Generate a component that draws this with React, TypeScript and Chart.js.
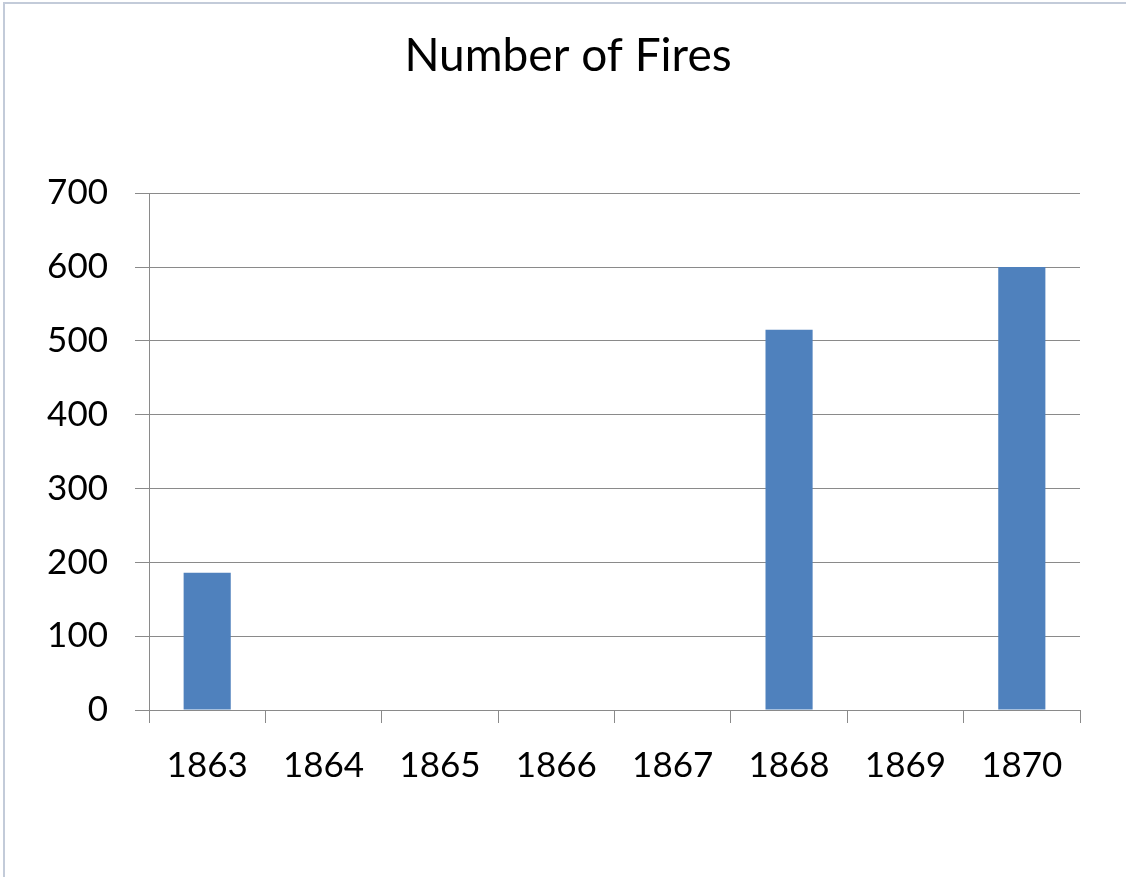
import React, { useEffect, useRef } from "react";
import { Chart, registerables } from "chart.js";

Chart.register(...registerables);

const categories = ["1863", "1864", "1865", "1866", "1867", "1868", "1869", "1870"];
const fires = [186, 0, 0, 0, 0, 515, 0, 600];
const titleText = "Number of Fires";
const yMin = 0;
const yMax = 700;
const yStep = 100;

const FONT = "Lato, 'Open Sans', sans-serif";
const GRID = "#8a8a8a";

export default function App() {
  const ref = useRef<HTMLCanvasElement | null>(null);

  useEffect(() => {
    document.body.style.margin = "0";
    const canvas = ref.current;
    if (!canvas) return;
    const chart = new Chart(canvas, {
      type: "bar",
      data: {
        labels: categories,
        datasets: [
          {
            label: titleText,
            data: fires,
            backgroundColor: "#4f81bd",
            borderWidth: 0,
            barPercentage: 0.405,
            categoryPercentage: 1,
          },
        ],
      },
      options: {
        animation: false,
        responsive: false,
        maintainAspectRatio: false,
        layout: { padding: { left: 10, right: 0, top: 0, bottom: 0 } },
        plugins: {
          legend: { display: false },
          tooltip: { enabled: false },
          title: {
            display: true,
            text: titleText,
            color: "#000",
            font: { family: FONT, size: 46, weight: "normal" },
            padding: { top: 29, bottom: 109 },
          },
        },
        scales: {
          x: {
            offset: true,
            grid: {
              display: true,
              offset: true,
              drawOnChartArea: false,
              drawTicks: true,
              tickLength: 13,
              color: GRID,
              lineWidth: 1,
            },
            border: { display: true, color: GRID, width: 1 },
            ticks: {
              color: "#000",
              font: { family: FONT, size: 35 },
              padding: 22,
              maxRotation: 0,
              autoSkip: false,
            },
            afterFit: (scale: any) => {
              scale.height = 167;
            },
          },
          y: {
            min: yMin,
            max: yMax,
            grid: {
              color: GRID,
              lineWidth: 1,
              drawTicks: true,
              tickLength: 14,
            },
            border: { display: true, color: GRID, width: 1 },
            ticks: {
              stepSize: yStep,
              color: "#000",
              font: { family: FONT, size: 35 },
              padding: 27,
            },
            afterFit: (scale: any) => {
              scale.width = 139;
            },
          },
          spacer: {
            type: "linear",
            position: "right",
            display: true,
            min: 0,
            max: 1,
            grid: { display: false, drawTicks: false },
            border: { display: false },
            ticks: { display: false },
            afterFit: (scale: any) => {
              scale.width = 46;
            },
          },
        },
      },
    });
    return () => chart.destroy();
  }, []);

  return (
    <div style={{ position: "relative", width: 1126, height: 877, background: "#fff", overflow: "hidden" }}>
      <div
        style={{
          position: "absolute",
          left: 3,
          top: 2,
          right: -5,
          bottom: -5,
          borderLeft: "2px solid #c3cbd9",
          borderTop: "2px solid #c3cbd9",
        }}
      />
      <canvas ref={ref} width={1126} height={877} style={{ position: "absolute", left: 0, top: 0 }} />
    </div>
  );
}
